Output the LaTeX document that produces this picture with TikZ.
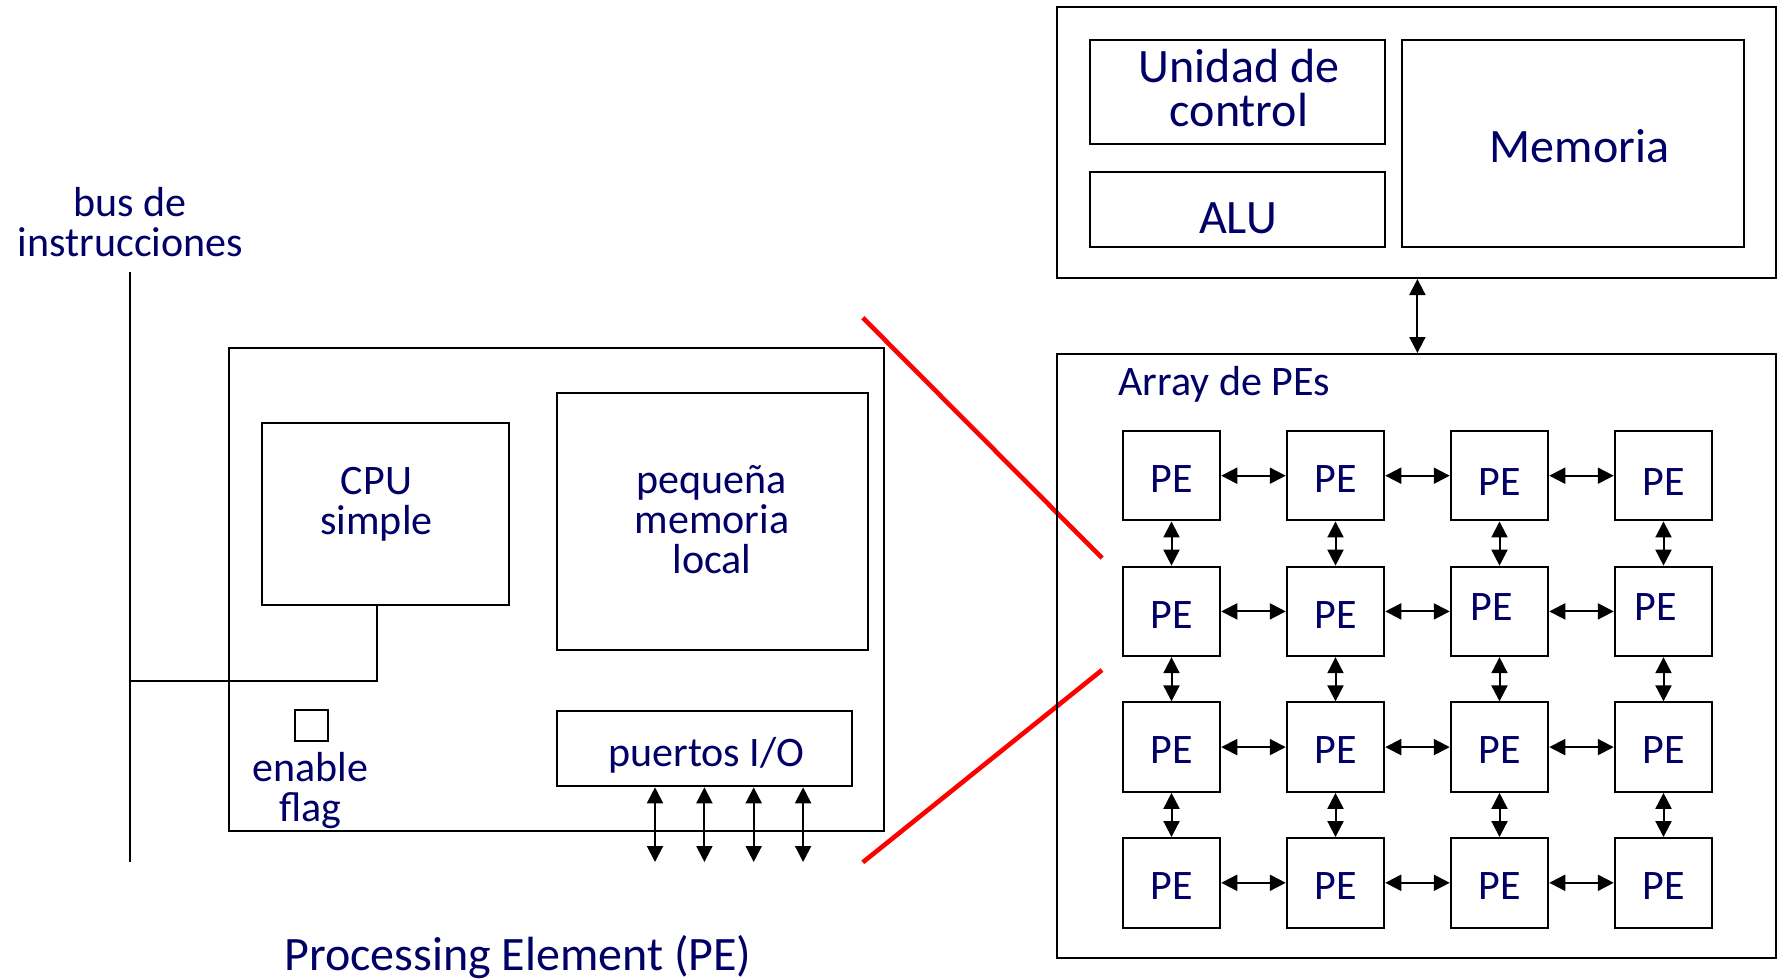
\documentclass[tikz,border=0pt]{standalone}
\usepackage{fontspec}
\setmainfont{Carlito}
\usetikzlibrary{arrows.meta,fit,calc}
\definecolor{navy}{RGB}{0,0,102}
\begin{document}
\begin{tikzpicture}[x=0.5pt,y=-0.5pt,
  box/.style={draw=black,line width=1pt,inner sep=0pt},
  txt/.style={text=navy,font=\fontsize{21}{20}\selectfont,align=center,inner sep=0pt},
  big/.style={text=navy,font=\fontsize{24}{22}\selectfont,align=center,inner sep=0pt},
  pe/.style={box,minimum width=48.75pt,minimum height=44.75pt},
  arr/.style={line width=1pt,{Triangle[length=8pt,width=8pt]}-{Triangle[length=8pt,width=8pt]}},
  redl/.style={red,line width=2.3pt},
  wire/.style={line width=1pt}]
\useasboundingbox (0,0) rectangle (1778,979);

% ---------- left: processing element ----------
\node[txt] (bus) at (130.4,221.7) {bus de\\instrucciones};
\coordinate (bustop) at (130.4,272);
\coordinate (busbot) at (130.4,862);
\draw[wire] (bustop) -- (busbot);

\node[box,fit={(229,348)(884.4,831)}] (pebox) {};
\node[box,fit={(262,423)(508.5,604.5)}] (cpu) {};
\node[txt] (cputxt) at (376.5,504.5) {CPU\\simple};
\node[box,fit={(557,393)(868,650)}] (mem) {};
\node[txt] (memtxt) at (712,519.3) {pequeña\\memoria\\local};
\node[box,fit={(294.5,710.3)(327.8,741.3)}] (flag) {};
\node[txt] (flagtxt) at (310.7,791) {enable\\flag};
\node[box,fit={(557,710.7)(852,786.3)}] (io) {};
\node[txt] (iotxt) at (706.4,755.2) {puertos I/O};

\coordinate (cpuc) at (377,680.7);
\draw[wire] (cpu.south -| cpuc) -- (cpuc) -- (cpuc -| bustop);

\foreach \x [count=\i] in {655,704.4,753.7,803.1} {
  \coordinate (port\i) at (\x,862);
  \draw[arr] (io.south -| port\i) -- (port\i);
}

\node[big] (title) at (518,957) {Processing Element (PE)};

% ---------- red zoom lines ----------
\coordinate (r1a) at (862.8,317.7);
\coordinate (r1b) at (1102,558);
\coordinate (r2a) at (862.8,862.3);
\coordinate (r2b) at (1102,670);
\draw[redl] (r1a) -- (r1b);
\draw[redl] (r2a) -- (r2b);

% ---------- right: control unit ----------
\node[box,fit={(1057,7)(1776,278)}] (ctrl) {};
\node[box,fit={(1090,40)(1384.5,144)}] (uc) {};
\node[big] (uctxt) at (1239,88) {Unidad de\\control};
\node[box,fit={(1090,172.4)(1384.5,247.2)}] (alu) {};
\node[big] (alutxt) at (1238,217.8) {ALU};
\node[box,fit={(1401.5,40)(1744,247.2)}] (memo) {};
\node[big] (memotxt) at (1579.5,146.3) {Memoria};

\node[box,fit={(1057,354)(1776,958)}] (array) {};
\node[txt,anchor=west] (arraytxt) at (1118,384.4) {Array de PEs};

\coordinate (cx) at (1417.4,300);
\draw[arr] (ctrl.south -| cx) -- (array.north -| cx);

% ---------- PE grid ----------
\foreach \c/\r/\dx/\dy in {1/1/0/3.4,2/1/0/3.4,3/1/0/6.8,4/1/0/6.8,
                           1/2/0/3.4,2/2/0/3.4,3/2/-8/-4,4/2/-8/-4,
                           1/3/0/3.4,2/3/0/3.4,3/3/0/3.4,4/3/0/3.4,
                           1/4/0/3.4,2/4/0/3.4,3/4/0/3.4,4/4/0/3.4} {
  \node[pe] (p\r\c) at ({1171.5+164*(\c-1)},{475.7+135.7*(\r-1)}) {};
  \node[txt] (t\r\c) at ([shift={(\dx,\dy)}]p\r\c.center) {PE};
}
\foreach \r in {1,2,3,4} {
  \foreach \c [evaluate=\c as \n using int(\c+1)] in {1,2,3} {
    \draw[arr] (p\r\c.east) -- (p\r\n.west);
  }
}
\foreach \c in {1,2,3,4} {
  \foreach \r [evaluate=\r as \n using int(\r+1)] in {1,2,3} {
    \draw[arr] (p\r\c.south) -- (p\n\c.north);
  }
}
\end{tikzpicture}
\end{document}
